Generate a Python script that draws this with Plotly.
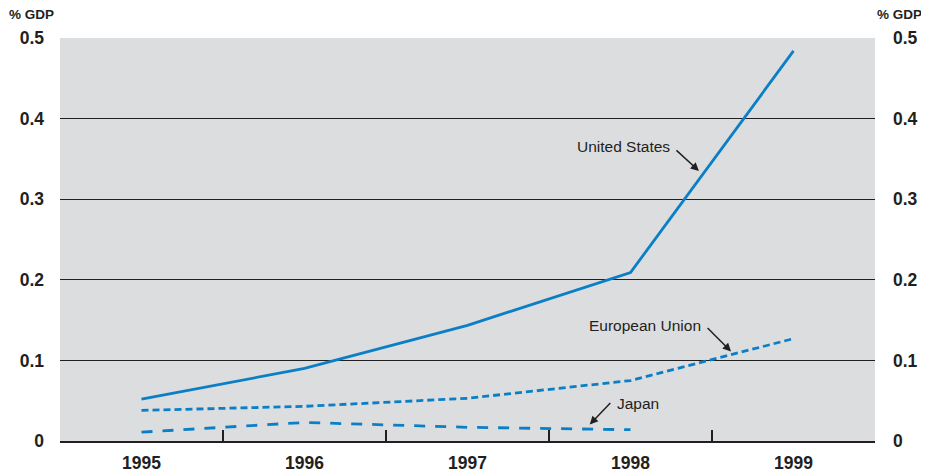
import plotly.graph_objects as go

years = ["1995", "1996", "1997", "1998", "1999"]
us = [0.052, 0.090, 0.1435, 0.209, 0.484]
eu = [0.038, 0.043, 0.053, 0.075, 0.127]
japan_years = ["1995", "1996", "1997", "1998"]
japan = [0.011, 0.023, 0.017, 0.014]
y_ticks = [0, 0.1, 0.2, 0.3, 0.4, 0.5]
y_labels = ["0", "0.1", "0.2", "0.3", "0.4", "0.5"]

BLUE = "#0b7fc6"
INK = "#231f20"
BG = "#dcdddf"
FONT = "Liberation Sans, Arial, sans-serif"
tick_font = dict(size=17.5, family=FONT, color=INK, weight="bold")

fig = go.Figure()
fig.add_trace(go.Scatter(x=years, y=us, mode="lines", line=dict(color=BLUE, width=2.8), showlegend=False))
fig.add_trace(go.Scatter(x=years, y=eu, mode="lines", line=dict(color=BLUE, width=2.8, dash="7px,4px"), showlegend=False))
fig.add_trace(go.Scatter(x=japan_years, y=japan, mode="lines", line=dict(color=BLUE, width=2.8, dash="11px,10px"), showlegend=False))
fig.add_trace(go.Scatter(x=years, y=us, mode="lines", yaxis="y2", line=dict(width=0), opacity=0, showlegend=False, hoverinfo="skip"))

# page body has an 8px margin, so the figure is made 8px smaller and shifted
fig.update_layout(
    width=921, height=464,
    margin=dict(l=52, r=54, t=30, b=31),
    paper_bgcolor="white", plot_bgcolor=BG,
    font=dict(family=FONT, color=INK),
    xaxis=dict(type="category", range=[-0.5, 4.5], tickson="boundaries", ticks="inside", ticklen=11,
               tickwidth=1.5, tickcolor=INK, showgrid=False, showline=True, linecolor=INK, linewidth=1.5,
               tickfont=tick_font, ticklabelstandoff=5, zeroline=False, automargin=False),
    yaxis=dict(range=[0, 0.5], tickvals=y_ticks, ticktext=y_labels, showgrid=True, gridcolor=INK, gridwidth=1,
               zeroline=False, showline=False, ticks="", ticklabelstandoff=15,
               tickfont=tick_font, automargin=False),
    yaxis2=dict(range=[0, 0.5], tickvals=y_ticks, ticktext=y_labels, overlaying="y", side="right",
                showgrid=False, zeroline=False, showline=False, ticks="", ticklabelstandoff=17,
                tickfont=tick_font, automargin=False),
)

ann_font = dict(size=15.5, family=FONT, color=INK)
gdp_font = dict(size=13.5, family=FONT, color=INK, weight="bold")
# % GDP labels
fig.add_annotation(text="% GDP", xref="paper", yref="paper", x=0.0, y=1.0, yshift=24, xshift=-4, xanchor="right", yanchor="middle",
                   showarrow=False, font=gdp_font)
fig.add_annotation(text="% GDP", xref="paper", yref="paper", x=1.0, y=1.0, yshift=24, xshift=0, xanchor="left", yanchor="middle",
                   showarrow=False, font=gdp_font)

# Series labels
fig.add_annotation(text="United States", x=3.255, y=0.366, xanchor="right", yanchor="middle", showarrow=False, font=ann_font)
fig.add_annotation(text="", x=3.42, y=0.335, ax=-24, ay=-22, showarrow=True, arrowhead=2, arrowsize=1.1,
                   arrowwidth=1.5, arrowcolor=INK)
fig.add_annotation(text="European Union", x=3.445, y=0.1435, xanchor="right", yanchor="middle", showarrow=False, font=ann_font)
fig.add_annotation(text="", x=3.617, y=0.111, ax=-25, ay=-25, showarrow=True, arrowhead=2, arrowsize=1.1,
                   arrowwidth=1.5, arrowcolor=INK)
fig.add_annotation(text="Japan", x=2.905, y=0.0466, xanchor="left", yanchor="middle", showarrow=False, font=ann_font)
fig.add_annotation(text="", x=2.75, y=0.0205, ax=22, ay=-23, showarrow=True, arrowhead=2, arrowsize=1.1,
                   arrowwidth=1.5, arrowcolor=INK)

fig.write_html("out.html")
